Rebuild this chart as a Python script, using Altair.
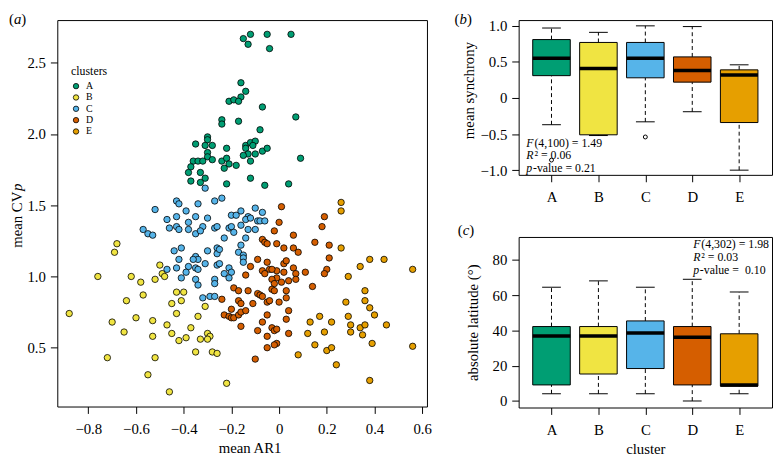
import altair as alt
import pandas as pd

FONT = "Liberation Serif"
clusters = ["A", "B", "C", "D", "E"]
palette = ["#009E73", "#F0E442", "#56B4E9", "#D55E00", "#E69F00"]

# ---------------- panel (a): mean AR1 vs mean CVp ----------------
a_ar1 = [-0.12, -0.15, -0.13, -0.05, 0.05, -0.04, -0.16, -0.14, -0.16, -0.21,
         -0.19, -0.17, -0.07, 0.07, -0.24, -0.24, -0.17, -0.08, -0.30, -0.30,
         -0.35, -0.31, -0.28, -0.22, -0.14, -0.12, -0.10, -0.11, -0.14, -0.07,
         -0.05, -0.30, -0.30, -0.13, -0.15, -0.10, 0.09, -0.36, -0.34, -0.32,
         -0.28, -0.24, -0.22, -0.21, -0.18, -0.12, -0.37, -0.38, -0.33, -0.23,
         -0.31, -0.33, -0.37, -0.22, -0.12, -0.06, 0.04]
a_cvp = [2.70, 2.67, 2.63, 2.70, 2.70, 2.60, 2.36, 2.30, 2.26, 2.23,
         2.24, 2.23, 2.19, 2.12, 2.10, 2.07, 2.09, 2.03, 1.98, 1.96,
         1.93, 1.92, 1.92, 1.90, 1.92, 1.94, 1.95, 1.92, 1.90, 1.88,
         1.90, 1.87, 1.84, 1.86, 1.85, 1.86, 1.83, 1.81, 1.81, 1.81,
         1.82, 1.81, 1.83, 1.79, 1.78, 1.81, 1.77, 1.73, 1.73, 1.76,
         1.69, 1.66, 1.67, 1.65, 1.69, 1.64, 1.65]

b_ar1 = [-0.68, -0.69, -0.76, -0.62, -0.58, -0.52, -0.50, -0.49, -0.48, -0.64,
         -0.57, -0.88, -0.70, -0.60, -0.53, -0.65, -0.53, -0.47, -0.45, -0.42,
         -0.43, -0.45, -0.41, -0.43, -0.40, -0.72, -0.52, -0.55, -0.46, -0.39,
         -0.31, -0.34, -0.37, -0.33, -0.30, -0.29, -0.30, -0.35, -0.28, -0.26,
         -0.22]
b_cvp = [1.23, 1.17, 1.00, 1.00, 0.96, 0.98, 1.08, 1.02, 1.00, 0.83,
         0.87, 0.74, 0.68, 0.71, 0.69, 0.61, 0.58, 0.66, 0.60, 0.55,
         0.89, 0.81, 0.83, 0.74, 0.89, 0.43, 0.43, 0.31, 0.19, 0.57,
         0.79, 0.72, 0.64, 0.56, 0.60, 0.58, 0.56, 0.47, 0.47, 0.46,
         0.25]

c_ar1 = [-0.57, -0.52, -0.55, -0.53, -0.47, -0.46, -0.43, -0.43, -0.42, -0.43,
         -0.42, -0.39, -0.38, -0.38, -0.35, -0.35, -0.34, -0.32, -0.33, -0.30,
         -0.31, -0.27, -0.24, -0.27, -0.26, -0.21, -0.20, -0.19, -0.20, -0.18,
         -0.16, -0.16, -0.13, -0.14, -0.12, -0.09, -0.08, -0.06, -0.10, -0.07,
         -0.13, -0.10, -0.23, -0.14, -0.16, -0.44, -0.41, -0.30, -0.26, -0.26,
         -0.17, -0.15, -0.15, -0.15, -0.42, -0.35, -0.34, -0.36, -0.31, -0.38,
         -0.35, -0.34, -0.43, -0.47, -0.26, -0.21, -0.39, -0.23, -0.20, -0.21,
         -0.41, -0.35, -0.34, -0.27, -0.27, -0.32, -0.29, -0.27, -0.25, -0.25]
c_cvp = [1.33, 1.47, 1.30, 1.29, 1.40, 1.34, 1.42, 1.53, 1.51, 1.35,
         1.33, 1.46, 1.38, 1.33, 1.42, 1.30, 1.51, 1.35, 1.32, 1.41,
         1.62, 1.53, 1.55, 1.34, 1.35, 1.34, 1.35, 1.31, 1.43, 1.43,
         1.46, 1.36, 1.42, 1.40, 1.41, 1.39, 1.39, 1.39, 1.48, 1.45,
         1.33, 1.33, 1.27, 1.27, 1.22, 1.18, 1.20, 1.18, 1.20, 1.16,
         1.17, 1.15, 1.13, 1.10, 1.12, 1.14, 1.12, 1.12, 1.09, 1.07,
         1.06, 1.05, 1.06, 1.05, 1.08, 1.06, 1.03, 1.02, 1.03, 0.99,
         0.99, 0.98, 0.94, 0.98, 0.95, 0.85, 0.86, 0.86, 1.19, 1.09]

d_ar1 = [0.01, 0.00, -0.02, 0.06, -0.07, -0.06, -0.05, -0.01, 0.02, 0.06,
         0.08, -0.09, -0.05, -0.04, -0.12, -0.07, -0.06, -0.14, 0.02, 0.03,
         -0.01, -0.01, 0.02, 0.06, 0.07, 0.04, 0.11, -0.03, -0.02, 0.01,
         -0.03, -0.02, -0.19, -0.17, -0.13, -0.09, -0.08, -0.07, 0.03, 0.03,
         -0.24, -0.17, -0.16, -0.11, -0.05, -0.04, 0.00, -0.20, -0.23, -0.21,
         -0.20, -0.19, -0.17, -0.16, -0.14, -0.05, 0.04, -0.16, -0.07, 0.03,
         -0.03, -0.02, -0.01, -0.09, -0.05, 0.04, -0.01, -0.02, -0.05, -0.10,
         0.19, 0.18, 0.15, 0.21, 0.21, 0.20, 0.19, 0.14, -0.03, 0.07]
d_cvp = [1.49, 1.38, 1.32, 1.29, 1.26, 1.24, 1.23, 1.23, 1.20, 1.20,
         1.17, 1.12, 1.10, 1.05, 1.07, 1.04, 1.02, 1.01, 1.09, 1.11,
         1.04, 0.99, 1.03, 1.06, 1.02, 0.97, 1.03, 0.98, 0.95, 0.96,
         0.91, 0.90, 0.92, 0.90, 0.90, 0.88, 0.87, 0.86, 0.90, 0.85,
         0.84, 0.83, 0.81, 0.81, 0.82, 0.83, 0.82, 0.77, 0.73, 0.72,
         0.71, 0.71, 0.73, 0.75, 0.76, 0.73, 0.76, 0.65, 0.68, 0.70,
         0.64, 0.62, 0.63, 0.62, 0.58, 0.60, 0.53, 0.52, 0.50, 0.42,
         1.42, 1.35, 1.24, 1.22, 1.13, 1.05, 1.02, 0.93, 1.05, 0.98]

e_ar1 = [0.26, 0.26, 0.26, 0.34, 0.38, 0.44, 0.56, 0.29, 0.36, 0.36,
         0.38, 0.40, 0.28, 0.29, 0.17, 0.13, 0.22, 0.12, 0.19, 0.30,
         0.30, 0.34, 0.36, 0.35, 0.45, 0.39, 0.15, 0.20, 0.22, 0.24,
         0.38, 0.56, 0.08]
e_cvp = [1.52, 1.46, 1.20, 1.07, 1.12, 1.12, 1.05, 1.00, 0.90, 0.83,
         0.78, 0.73, 0.82, 0.72, 0.72, 0.68, 0.68, 0.60, 0.61, 0.66,
         0.61, 0.64, 0.66, 0.59, 0.66, 0.53, 0.52, 0.48, 0.50, 0.38,
         0.27, 0.51, 0.45]

ar1_ticks = [-0.8, -0.6, -0.4, -0.2, 0.0, 0.2, 0.4, 0.6]
cvp_ticks = [0.5, 1.0, 1.5, 2.0, 2.5]

# ---------------- panel (b): mean synchrony box plot stats ----------------
sync_wlo = [-0.37, -0.52, -0.33, -0.19, -1.00]
sync_q1 = [0.31, -0.51, 0.28, 0.22, -0.34]
sync_med = [0.55, 0.41, 0.55, 0.38, 0.32]
sync_q3 = [0.81, 0.77, 0.77, 0.57, 0.39]
sync_whi = [0.97, 0.91, 1.00, 0.99, 0.46]
sync_out_cluster = ["A", "C"]
sync_out_value = [-0.86, -0.54]
sync_ticks = [-1.0, -0.5, 0.0, 0.5, 1.0]

# ---------------- panel (c): absolute latitude box plot stats ----------------
lat_wlo = [4.1, 4.1, 4.1, 0.0, 4.1]
lat_q1 = [9.1, 15.3, 18.4, 9.1, 8.4]
lat_med = [36.8, 36.8, 38.5, 36.1, 9.1]
lat_q3 = [42.2, 42.2, 45.4, 42.2, 38.1]
lat_whi = [64.5, 68.1, 64.5, 69.0, 61.8]
lat_ticks = [0, 20, 40, 60, 80]

# ======================================================================
color_scale = alt.Scale(domain=clusters, range=palette)


def seg(s, x, y, size=12, italic=False, align="left", angle=0):
    kw = dict(text=s, fontSize=size, font=FONT, align=align,
              baseline="middle", color="black")
    if italic:
        kw["fontStyle"] = "italic"
    if angle:
        kw["angle"] = angle
    return alt.Chart(pd.DataFrame({"k": [0]})).mark_text(**kw).encode(
        x=alt.value(x), y=alt.value(y))


rows = []
for name, xs, ys in zip(clusters, [a_ar1, b_ar1, c_ar1, d_ar1, e_ar1],
                        [a_cvp, b_cvp, c_cvp, d_cvp, e_cvp]):
    for xv, yv in zip(xs, ys, strict=True):
        rows.append({"cluster": name, "ar1": xv, "cvp": yv})
scatter_df = pd.DataFrame(rows)

pts = alt.Chart(scatter_df).mark_circle(
    size=42, opacity=1, stroke="black", strokeWidth=0.8
).encode(
    x=alt.X("ar1:Q", scale=alt.Scale(domain=[-0.93, 0.62], nice=False, zero=False),
            axis=alt.Axis(values=ar1_ticks, title="mean AR1",
                          labelExpr="datum.value == 0 ? '0' : format(datum.value, '.1f')",
                          labelPadding=8, titleX=195, titleY=42,
                          titleBaseline="middle", titleAlign="center")),
    y=alt.Y("cvp:Q", scale=alt.Scale(domain=[0.087, 2.80], nice=False, zero=False),
            axis=alt.Axis(values=cvp_ticks, title=None, format=".1f")),
    color=alt.Color("cluster:N", scale=color_scale,
                    legend=alt.Legend(orient="none", legendX=14, legendY=47,
                                      title="clusters", titleFont=FONT,
                                      titleFontSize=12, titleFontWeight="normal",
                                      titleColor="black", titlePadding=3,
                                      labelFont=FONT, labelFontSize=10,
                                      labelColor="black", labelOffset=5,
                                      symbolType="circle", symbolSize=30,
                                      symbolStrokeColor="black",
                                      symbolStrokeWidth=0.8, symbolOpacity=1,
                                      rowPadding=1.5, padding=0)),
)

scatter = alt.layer(
    pts,
    seg("mean CV", -41, 231, size=15, angle=270),
    seg("p", -41, 173.4, size=15, italic=True, angle=270),
    seg("(", -49, -1, size=15),
    seg("a", -44, -1, size=15, italic=True),
    seg(")", -36.5, -1, size=15),
).properties(width=375, height=392)


def box_panel(wlo, q1, med, q3, whi, ydomain, yticks, height, ytitle,
              ytitleX, ytitleY, xtitle, extras, out_c=None, out_v=None):
    df = pd.DataFrame({"cluster": clusters, "wlo": wlo, "q1": q1, "med": med,
                       "q3": q3, "whi": whi})
    order = "indexof(['A','B','C','D','E'], datum.cluster) + 1"
    base = alt.Chart(df).transform_calculate(pos=order).transform_calculate(
        left="datum.pos - 0.4", right="datum.pos + 0.4",
        cl="datum.pos - 0.2", cr="datum.pos + 0.2")
    xs = alt.Scale(domain=[0.3, 5.7], nice=False, zero=False)
    xa_kw = dict(values=[1, 2, 3, 4, 5], labelPadding=8,
                 labelExpr="['','A','B','C','D','E'][datum.value]")
    if xtitle:
        xa_kw.update(title=xtitle, titleY=42, titleBaseline="middle")
    else:
        xa_kw.update(title=None)
    xa = alt.Axis(**xa_kw)
    ys = alt.Scale(domain=ydomain, nice=False, zero=False)
    ya = alt.Axis(values=yticks, title=ytitle, titleX=ytitleX, titleY=ytitleY,
                  titleBaseline="middle", titleAlign="center",
                  labelExpr="datum.value == 0 ? '0' : format(datum.value, '" +
                  (".1f" if isinstance(yticks[0], float) else "d") + "')")

    def X(f):
        return alt.X(f, type="quantitative", scale=xs, axis=xa)

    def Y(f):
        return alt.Y(f, type="quantitative", scale=ys, axis=ya)

    layers = [
        base.mark_rule(color="black", strokeDash=[4, 3], strokeWidth=1).encode(
            x=X("pos"), y=Y("q3"), y2="whi"),
        base.mark_rule(color="black", strokeDash=[4, 3], strokeWidth=1).encode(
            x=X("pos"), y=Y("wlo"), y2="q1"),
        base.mark_rule(color="black", strokeWidth=1).encode(
            x=X("cl"), x2="cr", y=Y("whi")),
        base.mark_rule(color="black", strokeWidth=1).encode(
            x=X("cl"), x2="cr", y=Y("wlo")),
        base.mark_rect(stroke="black", strokeWidth=1, opacity=1).encode(
            x=X("left"), x2="right", y=Y("q1"), y2="q3",
            color=alt.Color("cluster:N", scale=color_scale, legend=None)),
        base.mark_rule(color="black", strokeWidth=3.5).encode(
            x=X("left"), x2="right", y=Y("med")),
    ]
    if out_c:
        odf = pd.DataFrame({"cluster": out_c, "val": out_v})
        layers.append(
            alt.Chart(odf).transform_calculate(pos=order).mark_point(
                shape="circle", filled=False, color="black", strokeWidth=1,
                size=16, opacity=1).encode(x=X("pos"), y=Y("val")))
    layers.extend(extras)
    return alt.layer(*layers).properties(width=257, height=height)


pb = box_panel(
    sync_wlo, sync_q1, sync_med, sync_q3, sync_whi, [-1.065, 1.08], sync_ticks,
    157, "mean synchrony", -51.3, 71, None,
    [
        seg("F", 7.7, 124.3, italic=True), seg("(4,100) = 1.49", 16.0, 124.3),
        seg("R", 7.7, 137.3, italic=True), seg("\u00b2 = 0.06", 16.0, 137.3),
        seg("p", 7.7, 150.3, italic=True), seg("-value = 0.21", 14.5, 150.3),
        seg("(", -65, -1, size=15), seg("b", -60, -1, size=15, italic=True),
        seg(")", -52.5, -1, size=15),
    ],
    out_c=sync_out_cluster, out_v=sync_out_value,
)

pc = box_panel(
    lat_wlo, lat_q1, lat_med, lat_q3, lat_whi, [-3.7, 93], lat_ticks,
    173, "absolute latitude (\u00b0)", -46.3, 86.5, "cluster",
    [
        seg("F", 177, 7.5, italic=True), seg("(4,302) = 1.98", 185.3, 7.5),
        seg("R", 177, 20.5, italic=True), seg("\u00b2 = 0.03", 185.3, 20.5),
        seg("p", 177, 33.5, italic=True), seg("-value =\u00a0 0.10", 183.8, 33.5),
        seg("(", -61.75, -7, size=15), seg("c", -56.75, -7, size=15, italic=True),
        seg(")", -50, -7, size=15),
    ],
)

chart = alt.hconcat(
    scatter, alt.vconcat(pb, pc, spacing=17), spacing=21
).resolve_scale(color="independent").properties(
    padding={"left": 0, "top": 0, "right": 0, "bottom": 0},
    background="white",
).configure(font=FONT).configure_view(
    stroke="black", strokeWidth=1
).configure_axis(
    labelFont=FONT, titleFont=FONT, labelFontSize=15, titleFontSize=15,
    titleFontWeight="normal", labelColor="black", titleColor="black",
    tickColor="black", tickSize=7, tickWidth=1, domain=False, grid=False,
    labelFlush=False, labelOverlap=False,
).configure_axisLeft(labelPadding=5)

chart.save("out.html", embed_options={"renderer": "svg", "actions": False})
